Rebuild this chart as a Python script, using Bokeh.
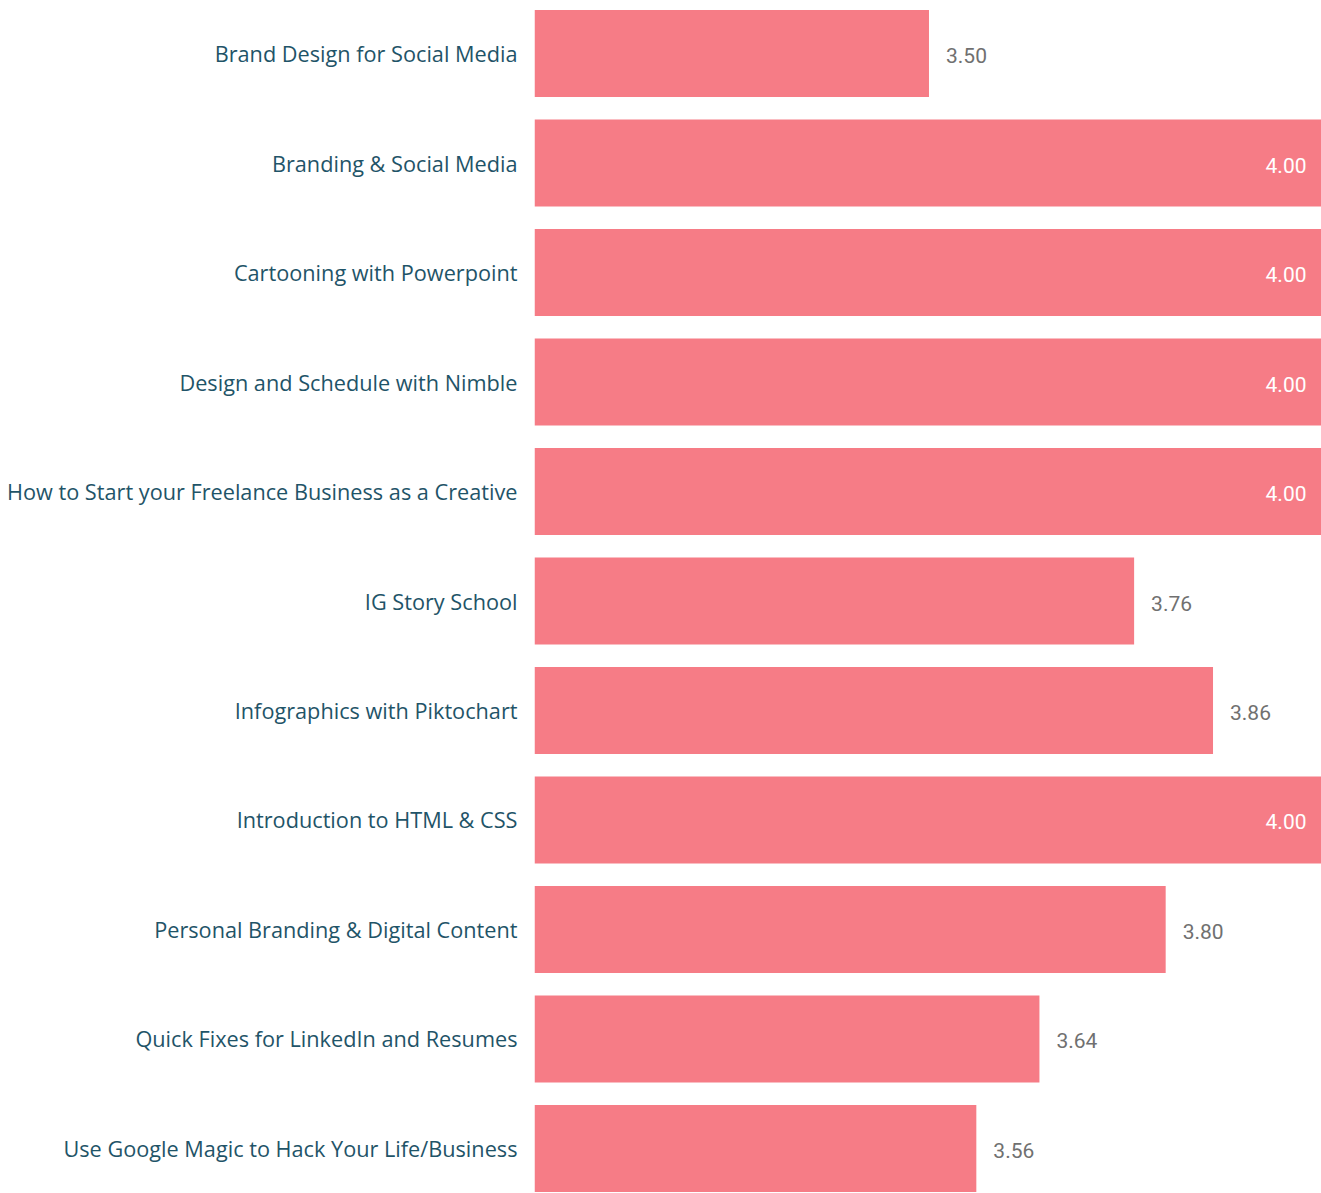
from bokeh.plotting import figure
from bokeh.models import FactorRange, Range1d, ColumnDataSource
from bokeh.core.properties import value
from bokeh.embed import file_html
from bokeh.resources import INLINE

categories = [
    "Brand Design for Social Media",
    "Branding & Social Media",
    "Cartooning with Powerpoint",
    "Design and Schedule with Nimble",
    "How to Start your Freelance Business as a Creative",
    "IG Story School",
    "Infographics with Piktochart",
    "Introduction to HTML & CSS",
    "Personal Branding & Digital Content",
    "Quick Fixes for LinkedIn and Resumes",
    "Use Google Magic to Hack Your Life/Business",
]
ratings = [3.50, 4.00, 4.00, 4.00, 4.00, 3.76, 3.86, 4.00, 3.80, 3.64, 3.56]
x_start = 3.0
x_end = 3.9975

factors = list(reversed(categories))

p = figure(
    width=1321, height=1193,
    y_range=FactorRange(factors=factors, range_padding=-0.089, range_padding_units="absolute"),
    x_range=Range1d(x_start, x_end),
    output_backend="svg", toolbar_location=None,
    min_border_left=534, min_border_right=0, min_border_top=8, min_border_bottom=0,
)

src = ColumnDataSource(dict(cat=categories, val=ratings))
p.hbar(y="cat", left=x_start, right="val", height=0.795, source=src,
       fill_color="#F67C86", line_color=None)

inside = [i for i, v in enumerate(ratings) if v >= x_end]
outside = [i for i, v in enumerate(ratings) if v < x_end]

src_in = ColumnDataSource(dict(cat=[categories[i] for i in inside],
                               x=[x_end for i in inside],
                               t=["%.2f" % ratings[i] for i in inside]))
src_out = ColumnDataSource(dict(cat=[categories[i] for i in outside],
                                x=[ratings[i] for i in outside],
                                t=["%.2f" % ratings[i] for i in outside]))

p.text(x="x", y="cat", text="t", source=src_in, text_align="right", text_baseline="middle",
       x_offset=-15, y_offset=2, text_color="white", text_font=value("Roboto"),
       text_font_size="21px")
p.text(x="x", y="cat", text="t", source=src_out, text_align="left", text_baseline="middle",
       x_offset=17, y_offset=2, text_color="#707070", text_font=value("Roboto"),
       text_font_size="21px")

p.xaxis.visible = False
p.yaxis.axis_line_color = None
p.yaxis.major_tick_line_color = None
p.yaxis.minor_tick_line_color = None
p.yaxis.major_tick_out = 0
p.yaxis.major_tick_in = 0
p.yaxis.minor_tick_out = 0
p.yaxis.major_label_standoff = 17
p.yaxis.major_label_text_font = "Open Sans"
p.yaxis.major_label_text_font_size = "21.7px"
p.yaxis.major_label_text_color = "#1F5468"
p.xgrid.visible = False
p.ygrid.visible = False
p.outline_line_color = None
p.background_fill_color = "white"
p.border_fill_color = "white"

open("out.html", "w").write(file_html(p, INLINE))
